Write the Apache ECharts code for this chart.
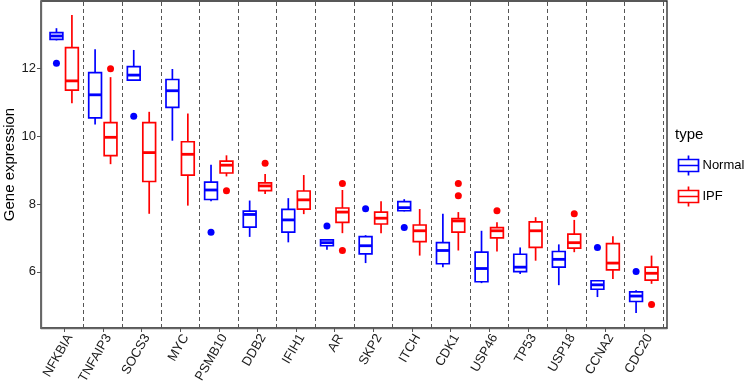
<!DOCTYPE html>
<html>
<head>
<meta charset="utf-8">
<script src="https://cdn.jsdelivr.net/npm/echarts@6/dist/echarts.min.js"></script>
<style>
  html, body { margin: 0; padding: 0; background: #fff; }
  #chart { width: 744px; height: 386px; }
</style>
</head>
<body>
<div id="chart"></div>
<script>
const genes = ["NFKBIA", "TNFAIP3", "SOCS3", "MYC", "PSMB10", "DDB2", "IFIH1", "AR",
  "SKP2", "ITCH", "CDK1", "USP46", "TP53", "USP18", "CCNA2", "CDC20"];

// [whisker low, q1, median, q3, whisker high]
const normalBoxes = [
  [12.81, 12.84, 12.94, 13.04, 13.17],
  [10.34, 10.53, 11.21, 11.86, 12.55],
  [11.62, 11.64, 11.79, 12.04, 12.53],
  [9.86, 10.84, 11.33, 11.66, 11.97],
  [8.08, 8.13, 8.41, 8.64, 9.15],
  [7.03, 7.32, 7.69, 7.79, 8.10],
  [6.87, 7.17, 7.53, 7.84, 8.17],
  [6.65, 6.77, 6.86, 6.94, 6.96],
  [6.26, 6.53, 6.77, 7.04, 7.08],
  [7.78, 7.80, 7.89, 8.07, 8.14],
  [6.14, 6.24, 6.63, 6.86, 7.71],
  [5.67, 5.71, 6.10, 6.58, 7.21],
  [5.94, 6.01, 6.14, 6.52, 6.72],
  [5.61, 6.14, 6.37, 6.60, 6.81],
  [5.26, 5.49, 5.62, 5.74, 5.76],
  [4.79, 5.13, 5.29, 5.41, 5.46]
];

const ipfBoxes = [
  [10.96, 11.35, 11.62, 12.60, 13.56],
  [9.17, 9.42, 9.96, 10.39, 11.73],
  [7.71, 8.66, 9.51, 10.39, 10.71],
  [7.95, 8.85, 9.46, 9.83, 10.66],
  [8.81, 8.91, 9.14, 9.26, 9.43],
  [8.29, 8.39, 8.53, 8.62, 8.88],
  [7.70, 7.85, 8.12, 8.38, 8.85],
  [7.14, 7.46, 7.76, 7.88, 8.41],
  [7.14, 7.41, 7.58, 7.76, 8.08],
  [6.48, 6.89, 7.21, 7.38, 7.85],
  [6.63, 7.17, 7.50, 7.57, 7.76],
  [6.60, 7.00, 7.21, 7.30, 7.46],
  [6.33, 6.72, 7.21, 7.47, 7.61],
  [6.58, 6.70, 6.86, 7.11, 7.53],
  [5.79, 6.06, 6.26, 6.83, 7.05],
  [5.65, 5.76, 5.96, 6.14, 6.48]
];

// [gene, value]
const normalOutliers = [
  ["NFKBIA", 12.14], ["SOCS3", 10.58], ["PSMB10", 7.17], ["AR", 7.35],
  ["SKP2", 7.86], ["ITCH", 7.31], ["CCNA2", 6.72], ["CDC20", 6.01]
];
const ipfOutliers = [
  ["TNFAIP3", 11.98], ["PSMB10", 8.39], ["DDB2", 9.20], ["AR", 8.60], ["AR", 6.63],
  ["CDK1", 8.60], ["CDK1", 8.24], ["USP46", 7.80], ["USP18", 7.71], ["CDC20", 5.04]
];

const yTicks = [6, 8, 10, 12];

const BLUE = "#0000ff";
const RED = "#ff0000";
const DODGE = 0.2;
const BOX_W = 0.33;

const positions = genes.map((g, i) => i + 1);
const boundaries = genes.map((g, i) => i + 1.5);

function boxData(boxes) {
  return boxes.map((b, i) => [i + 1].concat(b));
}

function outlierData(list, offset) {
  return list.map(([g, v]) => [genes.indexOf(g) + 1 + offset, v]);
}

function boxRenderer(offset, color) {
  return function (params, api) {
    const x = api.value(0) + offset;
    const cx = api.coord([x, 0])[0];
    const y = (k) => api.coord([x, api.value(k)])[1];
    const w = api.size([BOX_W, 0])[0];
    const lo = y(1), q1 = y(2), med = y(3), q3 = y(4), hi = y(5);
    const stroke = { stroke: color, lineWidth: 1.7, fill: null };
    return {
      type: "group",
      children: [
        { type: "line", shape: { x1: cx, y1: hi, x2: cx, y2: q3 }, style: stroke },
        { type: "line", shape: { x1: cx, y1: q1, x2: cx, y2: lo }, style: stroke },
        {
          type: "rect",
          shape: { x: cx - w / 2, y: q3, width: w, height: q1 - q3 },
          style: { stroke: color, lineWidth: 1.7, fill: "#fff" }
        },
        {
          type: "line",
          shape: { x1: cx - w / 2, y1: med, x2: cx + w / 2, y2: med },
          style: { stroke: color, lineWidth: 2.8 }
        }
      ]
    };
  };
}

const legendIcon = "path://M10,0V4M0,4H20V16H0ZM0,10H20M10,16V20";

const chart = echarts.init(document.getElementById("chart"));

const option = {
  animation: false,
  textStyle: { fontFamily: "Liberation Sans, Arial, sans-serif" },
  title: {
    text: "type",
    left: 675,
    top: 127,
    padding: 0,
    textStyle: { fontSize: 15, fontWeight: "normal", color: "#000" }
  },
  legend: {
    orient: "vertical",
    left: 676,
    top: 153,
    padding: 0,
    itemWidth: 20,
    itemHeight: 20,
    itemGap: 6,
    textStyle: { fontSize: 13, color: "#000", padding: [0, 0, 0, -1] },
    data: [
      { name: "Normal", icon: legendIcon, itemStyle: { color: "none", borderColor: BLUE, borderWidth: 1.7 } },
      { name: "IPF", icon: legendIcon, itemStyle: { color: "none", borderColor: RED, borderWidth: 1.7 } }
    ]
  },
  grid: {
    left: 41,
    right: 77,
    top: 1,
    bottom: 58,
    outerBoundsMode: "none",
    containLabel: false,
    show: true,
    borderColor: "#222",
    borderWidth: 1.3
  },
  xAxis: {
    type: "value",
    min: 0.4,
    max: 16.6,
    splitLine: { show: false },
    axisLine: { show: true, lineStyle: { color: "#666", width: 1.3 } },
    axisTick: { show: true, customValues: positions, length: 4, lineStyle: { color: "#555" } },
    axisLabel: {
      customValues: positions,
      formatter: (v) => genes[Math.round(v) - 1],
      rotate: 60,
      verticalAlign: "top",
      fontSize: 13,
      color: "#1a1a1a",
      margin: 4
    }
  },
  yAxis: {
    type: "value",
    min: 4.35,
    max: 13.97,
    name: "Gene expression",
    nameLocation: "middle",
    nameGap: 24,
    nameMoveOverlap: false,
    nameTextStyle: { fontSize: 15, color: "#000" },
    splitLine: { show: false },
    axisLine: { show: true, lineStyle: { color: "#666", width: 1.3 } },
    axisTick: { show: true, customValues: yTicks, length: 4, lineStyle: { color: "#555" } },
    axisLabel: { customValues: yTicks, fontSize: 13, color: "#1a1a1a", margin: 5 }
  },
  series: [
    {
      name: "Normal",
      type: "custom",
      itemStyle: { color: BLUE },
      renderItem: boxRenderer(-DODGE, BLUE),
      encode: { x: 0, y: [1, 2, 3, 4, 5] },
      data: boxData(normalBoxes),
      markLine: {
        silent: true,
        symbol: "none",
        label: { show: false },
        lineStyle: { type: [4, 3], color: "#555", width: 1 },
        data: boundaries.map((b) => ({ xAxis: b }))
      },
      z: 3
    },
    {
      name: "IPF",
      type: "custom",
      itemStyle: { color: RED },
      renderItem: boxRenderer(DODGE, RED),
      encode: { x: 0, y: [1, 2, 3, 4, 5] },
      data: boxData(ipfBoxes),
      z: 3
    },
    {
      name: "Normal",
      type: "scatter",
      symbolSize: 7,
      itemStyle: { color: BLUE, opacity: 1 },
      data: outlierData(normalOutliers, -DODGE),
      z: 4
    },
    {
      name: "IPF",
      type: "scatter",
      symbolSize: 7,
      itemStyle: { color: RED, opacity: 1 },
      data: outlierData(ipfOutliers, DODGE),
      z: 4
    }
  ]
};

chart.setOption(option);
</script>
</body>
</html>
